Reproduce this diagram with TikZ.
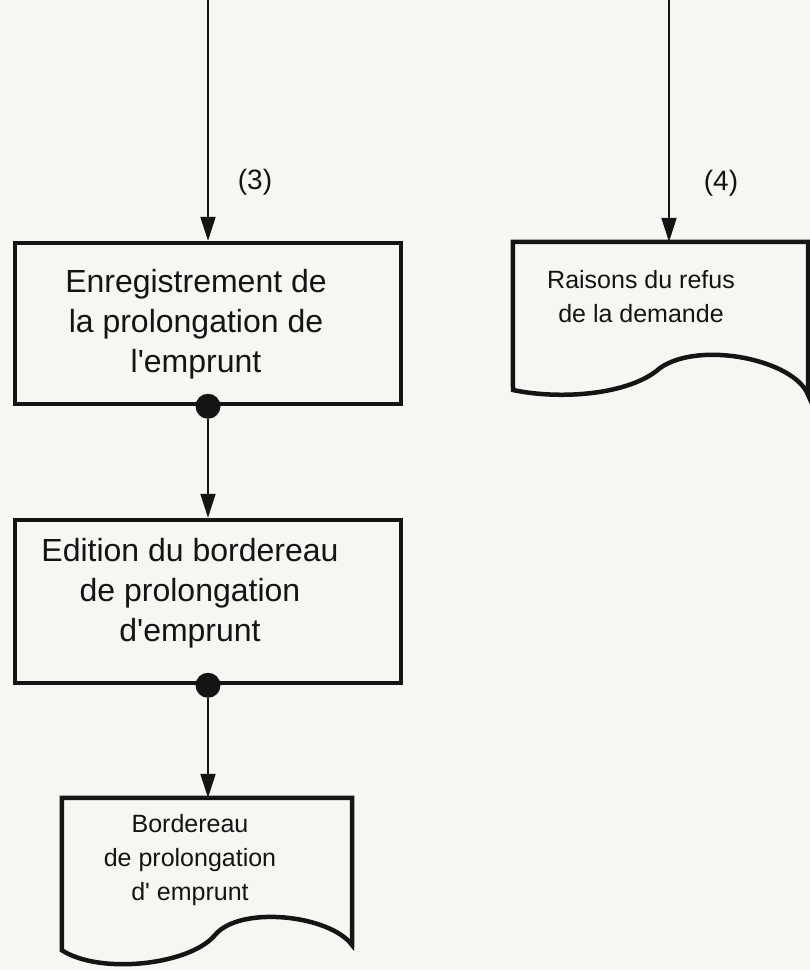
\documentclass[tikz,border=0pt]{standalone}
\usepackage{fontspec}
\setmainfont{Liberation Sans}[Ligatures=TeXOff]
\usetikzlibrary{arrows.meta}
\definecolor{paper}{RGB}{246,246,243}
\definecolor{ink}{RGB}{20,20,20}
\begin{document}
\begin{tikzpicture}[x=1pt,y=-1pt,
  procbox/.style={draw=ink, line width=4.5pt, inner sep=0pt},
  docarea/.style={inner sep=0pt},
  docshape/.style={draw=ink, line width=4.5pt},
  flow/.style={draw=ink, line width=2pt, -{Triangle[length=24pt,width=15pt]}},
  bigdot/.style={circle, fill=ink, inner sep=0pt, minimum size=25pt},
  bigtxt/.style={align=center, text=ink, inner sep=0pt, font=\fontsize{32}{40}\selectfont},
  smalltxt/.style={align=center, text=ink, inner sep=0pt, font=\fontsize{25}{34}\selectfont},
  lbl/.style={text=ink, inner sep=0pt, font=\fontsize{28}{30}\selectfont}]
\fill[paper] (0,0) rectangle (810,970);
\useasboundingbox (0,0) rectangle (810,970);
\coordinate (s3) at (208,0);
\coordinate (s4) at (669,0);
% process boxes
\node[procbox, minimum width=386pt, minimum height=161pt] (b1) at (208,323.5) {};
\node[bigtxt] (t1) at (196,324) {Enregistrement de\\la prolongation de\\l'emprunt};
\node[procbox, minimum width=386pt, minimum height=163pt] (b2) at (208,601.5) {};
\node[bigtxt] (t2) at (190,593) {Edition du bordereau\\de prolongation\\d'emprunt};
% documents
\node[docarea, minimum width=290pt, minimum height=152pt] (doc3) at (207,874) {};
\draw[docshape] (doc3.south west) -- (doc3.north west) -- (doc3.north east) -- (352,945)
  .. controls (330,915) and (240,905) .. (215,935)
  .. controls (190,965) and (100,975) .. (doc3.south west) -- cycle;
\node[smalltxt] (t3) at (190,860) {Bordereau\\de prolongation\\d' emprunt};
\node[docarea, minimum width=295pt, minimum height=153pt] (doc2) at (660.5,318.5) {};
\draw[docshape] (513,390) -- (doc2.north west) -- (doc2.north east) -- (doc2.south east)
  .. controls (795,360) and (700,340) .. (660,368)
  .. controls (630,395) and (560,400) .. (513,390) -- cycle;
\node[smalltxt] (t4) at (641,297) {Raisons du refus\\de la demande};
% connectors
\draw[flow] (s3) -- (b1.north);
\draw[flow] (s4) -- (doc2.north -| s4);
\node[bigdot] (d1) at (b1.south) {};
\node[bigdot] (d2) at (b2.south) {};
\draw[flow] (d1) -- (b2.north);
\draw[flow] (d2) -- (doc3.north -| d2);
% labels
\node[lbl] (l3) at (255,182) {(3)};
\node[lbl] (l4) at (721,183) {(4)};
\end{tikzpicture}
\end{document}
